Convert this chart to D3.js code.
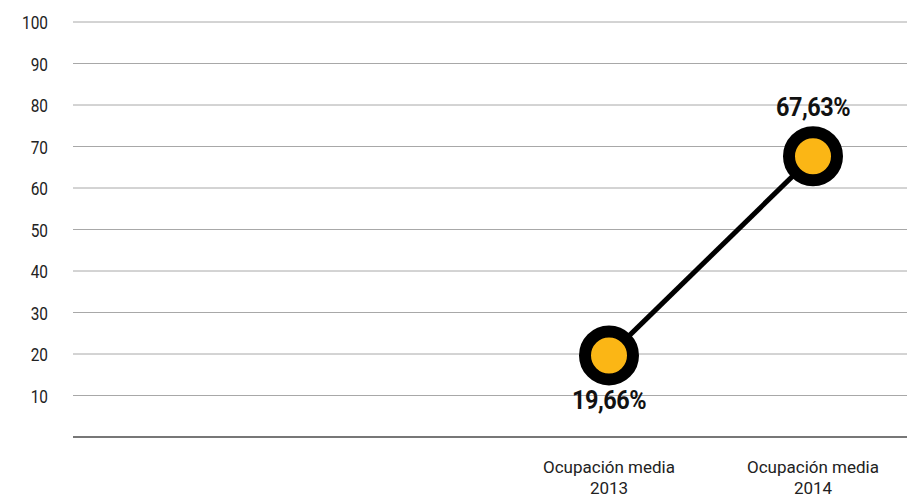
<!DOCTYPE html>
<html>
<head>
<meta charset="utf-8">
<script src="https://cdn.jsdelivr.net/npm/d3@7"></script>
<style>
  body { margin: 0; background: #fff; }
  text { font-family: Roboto, "Liberation Sans", sans-serif; }
</style>
</head>
<body>
<div id="chart-area"></div>
<script>
// data
const categories = ["Ocupación media|2013", "Ocupación media|2014"];
const values = [19.66, 67.63];
const valueLabels = ["19,66%", "67,63%"];
const yTicks = [10, 20, 30, 40, 50, 60, 70, 80, 90, 100];

const WIDTH = 907, HEIGHT = 498;
const MARGIN = { LEFT: 73, RIGHT: 0, TOP: 22, BOTTOM: 61 };
const innerW = WIDTH - MARGIN.LEFT - MARGIN.RIGHT;
const innerH = HEIGHT - MARGIN.TOP - MARGIN.BOTTOM;

const svg = d3.select("#chart-area").append("svg")
  .attr("width", WIDTH)
  .attr("height", HEIGHT);

const g = svg.append("g")
  .attr("transform", `translate(${MARGIN.LEFT}, ${MARGIN.TOP})`);

const y = d3.scaleLinear()
  .domain([0, 100])
  .range([innerH, 0]);

const x = d3.scalePoint()
  .domain(categories)
  .range([536, 740]);

// gridlines
g.selectAll(".grid").data(yTicks).enter().append("line")
  .attr("x1", 0).attr("x2", innerW)
  .attr("y1", d => y(d)).attr("y2", d => y(d))
  .attr("stroke", "#a8a8a8")
  .attr("stroke-width", 1);

// baseline
g.append("line")
  .attr("x1", 0).attr("x2", innerW)
  .attr("y1", y(0)).attr("y2", y(0))
  .attr("stroke", "#777")
  .attr("stroke-width", 2);

// y tick labels (narrowed a bit to look condensed)
g.selectAll(".ytick").data(yTicks).enter().append("text")
  .attr("transform", d => `translate(-25, ${y(d) + 1}) scale(0.88, 1)`)
  .attr("dy", "0.35em")
  .attr("text-anchor", "end")
  .attr("font-size", 17.5)
  .attr("fill", "#222")
  .text(d => d);

// category labels
const cat = g.selectAll(".cat").data(categories).enter().append("text")
  .attr("text-anchor", "middle")
  .attr("font-size", 17)
  .attr("fill", "#222");
cat.each(function(d) {
  const parts = d.split("|");
  d3.select(this).selectAll("tspan").data(parts).enter().append("tspan")
    .attr("x", x(d))
    .attr("y", (p, i) => innerH + 36 + i * 21)
    .text(p => p);
});

// line
const pts = categories.map((c, i) => [x(c), y(values[i])]);
g.append("path")
  .attr("d", d3.line()(pts))
  .attr("fill", "none")
  .attr("stroke", "#000")
  .attr("stroke-width", 5);

// points
g.selectAll(".dot").data(values).enter().append("circle")
  .attr("cx", (d, i) => x(categories[i]))
  .attr("cy", d => y(d))
  .attr("r", 24)
  .attr("fill", "#fbb615")
  .attr("stroke", "#000")
  .attr("stroke-width", 12);

// value labels: first below, second above
g.selectAll(".val").data(values).enter().append("text")
  .attr("transform", (d, i) =>
    `translate(${x(categories[i])}, ${i === 0 ? y(d) + 54 : y(d) - 40}) scale(0.92, 1)`)
  .attr("text-anchor", "middle")
  .attr("font-size", 25.5)
  .attr("font-weight", 700)
  .attr("letter-spacing", -0.5)
  .attr("fill", "#111")
  .text((d, i) => valueLabels[i]);
</script>
</body>
</html>
